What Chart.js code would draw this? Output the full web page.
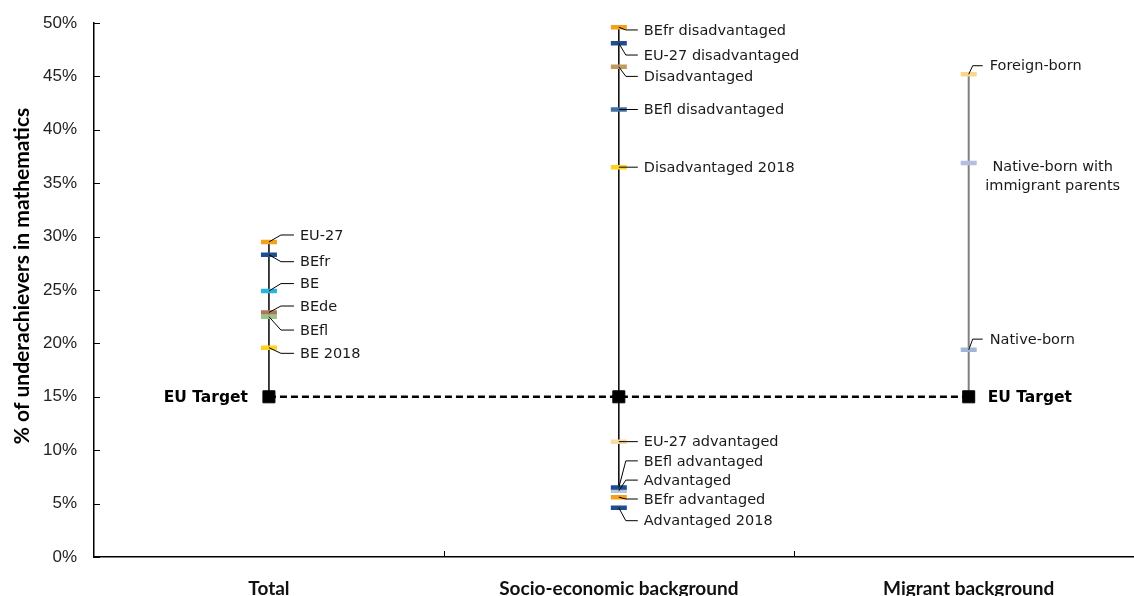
<!DOCTYPE html>
<html>
<head>
<meta charset="utf-8">
<script src="https://cdn.jsdelivr.net/npm/chart.js@4.4.0/dist/chart.umd.min.js"></script>
<style>
    html, body { margin: 0; padding: 0; background: #fff; overflow: hidden }
    #wrap { width: 1146px; height: 596px }
</style>
</head>
<body>
<div id="wrap"><canvas id="chart"></canvas></div>
<script>
const categories = ['Total', 'Socio-economic background', 'Migrant background']
const euTarget = 15
const yTicks = [0, 5, 10, 15, 20, 25, 30, 35, 40, 45, 50]

const totalNames = ['EU-27', 'BEfr', 'BE', 'BEde', 'BEfl', 'BE 2018']
const totalValues = [29.5, 28.3, 24.9, 22.9, 22.5, 19.6]

const socioNames = ['BEfr disadvantaged', 'EU-27 disadvantaged', 'Disadvantaged', 'BEfl disadvantaged', 'Disadvantaged 2018',
    'EU-27 advantaged', 'Advantaged', 'BEfl advantaged', 'BEfr advantaged', 'Advantaged 2018']
const socioValues = [49.6, 48.1, 45.9, 41.9, 36.5, 10.8, 6.2, 6.5, 5.6, 4.6]

const migrantNames = ['Foreign-born', 'Native-born with immigrant parents', 'Native-born']
const migrantValues = [45.2, 36.9, 19.4]

// couleurs des marqueurs
const totalColors = ['#F5A01A', '#1F4E8F', '#2BB3E0', '#A87A58', '#9CC48A', '#FFD21F']
const socioColors = ['#F5A01A', '#1F4E8F', '#C29A5E', '#3F70A3', '#FFD21F', '#FAD9A6', '#B4C6E0', '#1F4E8F', '#F5A01A', '#1F4E8F']
const migrantColors = ['#FBD58E', '#B3BEE0', '#A3B5D6']

// position des étiquettes (en valeur de l'axe y)
const totalLabelY = [30.15, 27.65, 25.6, 23.5, 21.25, 19.07]
const socioLabelY = [49.35, 47.0, 45.0, 41.9, 36.5, 10.8, 7.2, 9.0, 5.43, 3.4]
const migrantLabelY = [46.0, 35.65, 20.4]

const groups = [
    { x: 0, names: totalNames, values: totalValues, colors: totalColors, labelY: totalLabelY, lead: [12, 25, 31],
      low: euTarget, high: Math.max(...totalValues), lineColor: '#000', lineWidth: 1.5 },
    { x: 1, names: socioNames, values: socioValues, colors: socioColors, labelY: socioLabelY, lead: [7, 19, 25],
      low: socioValues[socioNames.indexOf('Advantaged')], high: Math.max(...socioValues), lineColor: '#000', lineWidth: 1.5 },
    { x: 2, names: migrantNames, values: migrantValues, colors: migrantColors, labelY: migrantLabelY, lead: [4, 14, 21],
      low: euTarget, high: Math.max(...migrantValues), lineColor: '#808080', lineWidth: 2 }
]

const datasets = []
groups.forEach(g => {
    datasets.push({
        type: 'line',
        data: [{ x: g.x, y: g.low }, { x: g.x, y: g.high }],
        borderColor: g.lineColor,
        borderWidth: g.lineWidth,
        pointRadius: 0,
        order: 3
    })
    datasets.push({
        data: g.values.map(v => ({ x: g.x, y: v })),
        pointStyle: 'line',
        pointRadius: 8,
        pointHoverRadius: 8,
        pointBorderWidth: 4.5,
        pointBorderColor: g.colors,
        pointBackgroundColor: g.colors,
        showLine: false,
        order: 2
    })
})
datasets.push({
    type: 'line',
    data: groups.map(g => ({ x: g.x, y: euTarget })),
    borderColor: '#000',
    borderWidth: 2.5,
    borderDash: [7, 4],
    pointStyle: 'rect',
    pointRadius: 8.5,
    pointHoverRadius: 8.5,
    pointBackgroundColor: '#000',
    pointBorderColor: '#000',
    pointBorderWidth: 1,
    order: 1
})

const LABEL_FONT = '14.5px "DejaVu Sans"'

const decoPlugin = {
    id: 'deco',
    afterDatasetsDraw(chart) {
        const ctx = chart.ctx
        const xs = chart.scales.x, ys = chart.scales.y
        const area = chart.chartArea
        ctx.save()
        // petits traits vers l'intérieur
        ctx.strokeStyle = '#000'
        ctx.lineWidth = 1
        ctx.beginPath()
        yTicks.forEach(t => {
            const py = Math.round(ys.getPixelForValue(t)) + 0.5
            ctx.moveTo(area.left, py)
            ctx.lineTo(area.left + 6, py)
        })
        ;[0.5, 1.5].forEach(t => {
            const px = Math.round(xs.getPixelForValue(t)) + 0.5
            ctx.moveTo(px, area.bottom)
            ctx.lineTo(px, area.bottom - 6)
        })
        ctx.stroke()

        // étiquettes avec lignes de rappel
        ctx.font = LABEL_FONT
        ctx.fillStyle = '#1a1a1a'
        ctx.textBaseline = 'middle'
        groups.forEach(g => {
            const px = xs.getPixelForValue(g.x)
            const [c, e, t] = g.lead
            g.names.forEach((name, i) => {
                const py = ys.getPixelForValue(g.values[i])
                const ty = ys.getPixelForValue(g.labelY[i])
                if (name === 'Native-born with immigrant parents') {
                    ctx.textAlign = 'center'
                    ctx.fillText('Native-born with', px + 84, ty - 9.5)
                    ctx.fillText('immigrant parents', px + 84, ty + 9.5)
                    return
                }
                ctx.beginPath()
                ctx.moveTo(px, py)
                ctx.lineTo(px + c, ty)
                ctx.lineTo(px + e, ty)
                ctx.stroke()
                ctx.textAlign = 'left'
                ctx.fillText(name, px + t, ty + 1)
            })
        })

        // EU Target
        ctx.font = 'bold 15.5px "DejaVu Sans"'
        ctx.fillStyle = '#000'
        const ty = ys.getPixelForValue(euTarget) + 1
        ctx.textAlign = 'right'
        ctx.fillText('EU Target', xs.getPixelForValue(0) - 21, ty)
        ctx.textAlign = 'left'
        ctx.fillText('EU Target', xs.getPixelForValue(2) + 19, ty)

        // titre de l'axe y
        ctx.font = 'bold 21px Lato'
        ctx.textAlign = 'center'
        ctx.translate(22, 276)
        ctx.rotate(-Math.PI / 2)
        ctx.fillText('% of underachievers in mathematics', 0, 0)
        ctx.restore()
    }
}

const ctx = document.getElementById('chart').getContext('2d')
window.chart = new Chart(ctx, {
    type: 'scatter',
    data: { datasets: datasets },
    plugins: [decoPlugin],
    options: {
        responsive: true,
        maintainAspectRatio: false,
        animation: false,
        layout: { padding: { top: 23, right: 0, left: 0, bottom: 0 } },
        plugins: {
            legend: { display: false },
            tooltip: { enabled: false }
        },
        scales: {
            x: {
                type: 'linear',
                min: -0.5,
                max: 2.471,
                afterBuildTicks: scale => { scale.ticks = [0, 1, 2].map(v => ({ value: v })) },
                afterFit: scale => { scale.height = 39 },
                grid: { display: false, drawTicks: true, tickLength: 17 },
                border: { display: true, color: '#000', width: 1.5 },
                ticks: {
                    padding: 3,
                    color: '#111',
                    font: { family: 'Lato', size: 19, weight: 'bold' },
                    maxRotation: 0,
                    callback: v => categories[v]
                }
            },
            y: {
                min: 0,
                max: 50,
                afterBuildTicks: scale => { scale.ticks = yTicks.map(v => ({ value: v })) },
                afterFit: scale => { scale.width = 94 },
                grid: { display: false, drawTicks: true, tickLength: 14 },
                border: { display: true, color: '#000', width: 1.5 },
                ticks: {
                    padding: 3,
                    color: '#222',
                    font: { family: '"Liberation Sans"', size: 17 },
                    callback: v => v + '%'
                }
            }
        }
    }
})
</script>
</body>
</html>
